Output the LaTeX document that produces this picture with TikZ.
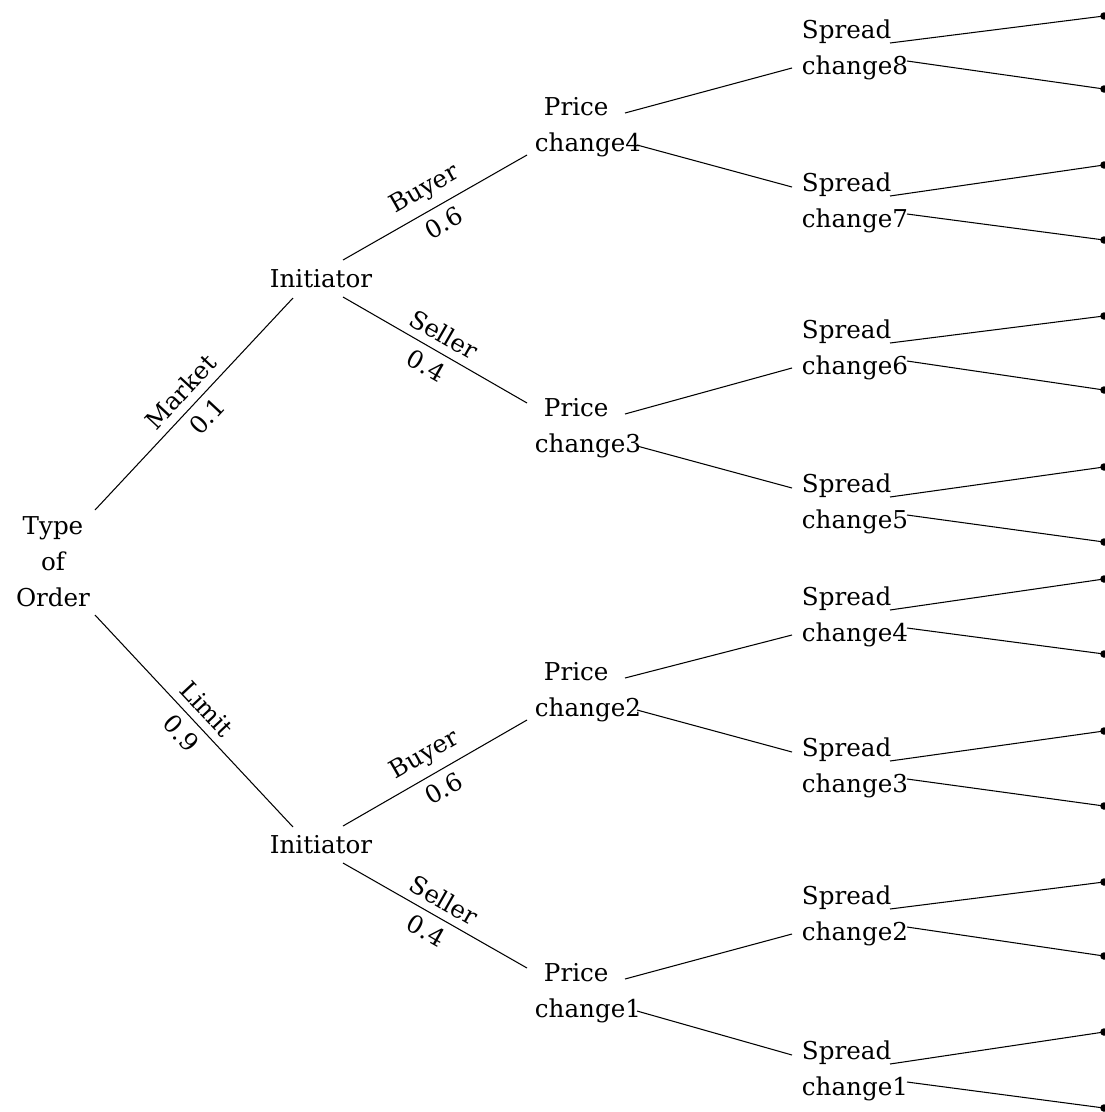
\documentclass[tikz,border=0pt]{standalone}
\usepackage{fontspec}
\setmainfont{DejaVu Serif}
\usetikzlibrary{calc}
\newcommand\mypc[1]{\hspace*{0.18cm}Price\\change#1}
\newcommand\mysc[1]{Spread\\change#1}
\begin{document}
\begin{tikzpicture}[x=0.02cm,y=-0.02cm,
  lab/.style={font=\fontsize{14}{20.5}\selectfont, inner sep=0pt},
  elab/.style={font=\fontsize{14}{20.5}\selectfont, sloped, inner sep=4.5pt},
  conn/.style={line width=0.6pt},
  leaf/.style={circle, fill, inner sep=0pt, minimum size=0.15cm}]
\useasboundingbox (0,0) rectangle (1105,1112);
% nodes
\node[lab, align=center] (root) at (53,562) {Type\\of\\Order};
\node[lab] (i1) at (321,279) {Initiator};
\node[lab] (i2) at (321,845) {Initiator};
\node[lab, align=left] (p4) at (588,127) {\mypc{4}};
\node[lab, align=left] (p3) at (588,428) {\mypc{3}};
\node[lab, align=left] (p2) at (588,692) {\mypc{2}};
\node[lab, align=left] (p1) at (588,993) {\mypc{1}};
\node[lab, align=left] (s8) at (855,50) {\mysc{8}};
\node[lab, align=left] (s7) at (855,203) {\mysc{7}};
\node[lab, align=left] (s6) at (855,350) {\mysc{6}};
\node[lab, align=left] (s5) at (855,504) {\mysc{5}};
\node[lab, align=left] (s4) at (855,617) {\mysc{4}};
\node[lab, align=left] (s3) at (855,768) {\mysc{3}};
\node[lab, align=left] (s2) at (855,916) {\mysc{2}};
\node[lab, align=left] (s1) at (855,1071) {\mysc{1}};
\foreach \n/\yy in {1/16,2/89,3/165,4/240,5/316,6/390,7/467,8/542,9/579,10/654,11/731,12/806,13/882,14/956,15/1032,16/1108}
  \node[leaf] (l\n) at (1104,\yy) {};
% root edges
\draw[conn] ($(root)+(42,-52)$) -- node[elab, above] {Market} node[elab, below] {0.1} ($(i1)+(-28,19)$);
\draw[conn] ($(root)+(42,53)$) -- node[elab, above] {Limit} node[elab, below] {0.9} ($(i2)+(-28,-18)$);
% initiator edges
\draw[conn] ($(i1)+(22,-19)$) -- node[elab, above] {Buyer} node[elab, below] {0.6} ($(p4)+(-61,28)$);
\draw[conn] ($(i1)+(22,18)$) -- node[elab, above] {Seller} node[elab, below] {0.4} ($(p3)+(-61,-25)$);
\draw[conn] ($(i2)+(22,-19)$) -- node[elab, above] {Buyer} node[elab, below] {0.6} ($(p2)+(-61,28)$);
\draw[conn] ($(i2)+(22,18)$) -- node[elab, above] {Seller} node[elab, below] {0.4} ($(p1)+(-61,-25)$);
% price change edges
\foreach \p/\a/\b in {p4/s8/s7, p3/s6/s5, p2/s4/s3, p1/s2/s1} {
  \draw[conn] ($(\p)+(37,-14)$) -- ($(\a)+(-63,18)$);
  \draw[conn] ($(\p)+(49,18)$) -- ($(\b)+(-63,-16)$);
}
% spread edges
\foreach \s/\a/\b in {s8/l1/l2, s7/l3/l4, s6/l5/l6, s5/l7/l8, s4/l9/l10, s3/l11/l12, s2/l13/l14, s1/l15/l16} {
  \draw[conn] ($(\s)+(35,-7)$) -- (\a.center);
  \draw[conn] ($(\s)+(52,11)$) -- (\b.center);
}
\end{tikzpicture}
\end{document}
